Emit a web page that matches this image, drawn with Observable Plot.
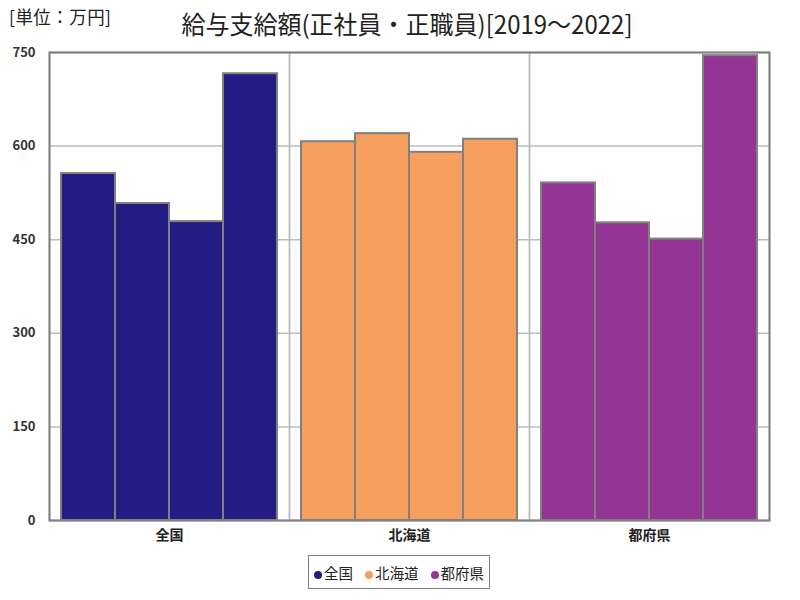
<!DOCTYPE html>
<html><head><meta charset="utf-8">
<script src="https://cdn.jsdelivr.net/npm/d3@7"></script>
<script src="https://cdn.jsdelivr.net/npm/@observablehq/plot@0.6"></script>
<style>
body{margin:0;background:#fff;}
#wrap{position:relative;width:800px;height:600px;font-family:"Noto Sans CJK JP",sans-serif;color:#222;}
#unit{position:absolute;left:9px;top:3px;font-size:18px;letter-spacing:0.5px;white-space:nowrap;transform-origin:left top;transform:scaleX(0.97);}
#title{position:absolute;left:0;width:814px;top:5px;text-align:center;font-size:25px;white-space:nowrap;transform:scaleX(0.96);}
#chart{position:absolute;left:0;top:0;}
#legend{position:absolute;left:308px;top:555px;width:182px;height:34px;box-sizing:border-box;border:1.5px solid #808080;display:flex;align-items:center;justify-content:center;gap:12px;font-size:14.5px;}
#legend span.dot{display:inline-block;width:8px;height:8px;border-radius:50%;margin-right:2px;vertical-align:middle;}
</style></head>
<body><div id="wrap">
<div id="chart"></div>
<div id="unit">[単位：万円]</div>
<div id="title">給与支給額(正社員・正職員)[2019～2022]</div>
<div id="legend"></div>
</div>
<script>
const groups = ["全国", "北海道", "都府県"];
const years = ["2019", "2020", "2021", "2022"];
const zenkoku = [556, 508, 479, 716];
const hokkaido = [607, 620, 590, 611];
const tofuken = [541, 477, 451, 745];
const colors = ["#231c82", "#f69f5e", "#953593"];
const yTicks = [0, 150, 300, 450, 600, 750];

const series = [zenkoku, hokkaido, tofuken];
const data = [];
groups.forEach((g, i) => years.forEach((yr, j) => data.push({group: g, year: yr, value: series[i][j]})));

const chart = Plot.plot({
  width: 800,
  height: 600,
  marginTop: 52,
  marginBottom: 80,
  marginLeft: 49,
  marginRight: 31,
  style: {fontFamily: "'Noto Sans CJK JP', sans-serif", background: "#fff"},
  fx: {domain: groups, padding: 0, axis: "bottom", label: null, tickSize: 0, tickPadding: 10},
  x: {domain: years, axis: null, paddingInner: 0, paddingOuter: 0.2222},
  y: {domain: [0, 750], ticks: yTicks, tickSize: 0, tickPadding: 14, label: null, tickFormat: d => String(d)},
  color: {domain: groups, range: colors},
  marks: [
    Plot.gridY(yTicks, {stroke: "#bdbdbd", strokeOpacity: 1, strokeWidth: 1.5}),
    Plot.frame({stroke: "#bdbdbd", strokeWidth: 1.5}),
    Plot.barY(data, {fx: "group", x: "year", y: "value", fill: "group", stroke: "#808080", strokeWidth: 2, insetLeft: 0, insetRight: 0}),
    Plot.frame({stroke: "#808080", strokeWidth: 2, facet: "super"})
  ]
});
document.getElementById("chart").appendChild(chart);
d3.select(chart).selectAll("[aria-label='y-axis tick label']").style("font-weight", "bold").style("font-size", "13px").style("fill", "#333");
d3.select(chart).selectAll("[aria-label='fx-axis tick label']").style("font-weight", "bold").style("font-size", "14px").style("fill", "#222");

const legend = document.getElementById("legend");
groups.forEach((g, i) => {
  const item = document.createElement("div");
  item.innerHTML = `<span class="dot" style="background:${colors[i]}"></span>${g}`;
  legend.appendChild(item);
});
</script>
</body></html>
